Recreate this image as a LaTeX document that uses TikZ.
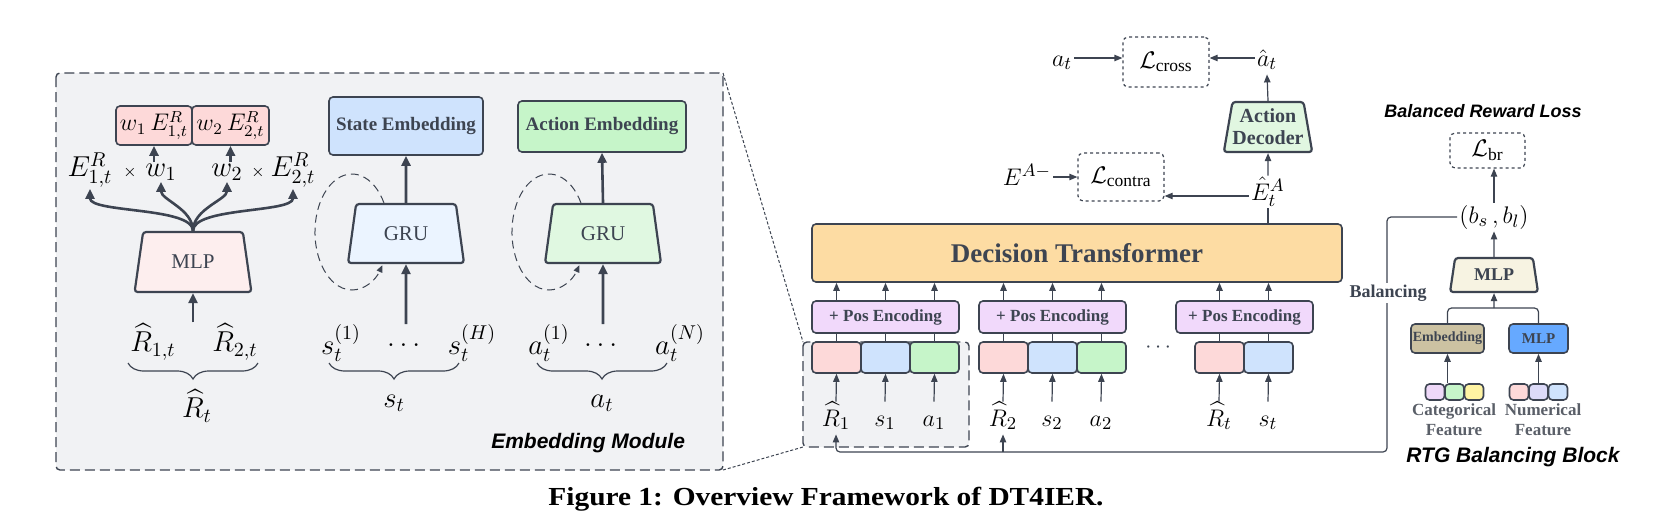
\documentclass[tikz,border=0pt]{standalone}
\usepackage{amsmath,amssymb}
\usepackage{fontspec}
\setmainfont{Liberation Serif}
\newfontfamily\lsans{Liberation Sans}
\newfontfamily\capfont[FakeStretch=1.13]{Liberation Serif}
\usepackage{xcolor}
\usetikzlibrary{arrows.meta,shapes.geometric,decorations.pathreplacing}
\definecolor{edge}{HTML}{3D4451}
\definecolor{bgray}{HTML}{F1F2F4}
\definecolor{redl}{HTML}{FDD9D9}
\definecolor{bluel}{HTML}{CFE3FD}
\definecolor{greenl}{HTML}{C6F5C9}
\definecolor{mlpred}{HTML}{FDEEEE}
\definecolor{grublue}{HTML}{EBF4FF}
\definecolor{grugreen}{HTML}{E0F8E1}
\definecolor{posc}{HTML}{F1D9FB}
\definecolor{dtc}{HTML}{FDDCA3}
\definecolor{decc}{HTML}{E1F7E1}
\definecolor{cream}{HTML}{F7F3E2}
\definecolor{tan}{HTML}{CCC2A2}
\definecolor{mlpblue}{HTML}{66A9FF}
\definecolor{purl}{HTML}{EED8F8}
\definecolor{yell}{HTML}{FFF4A3}
\definecolor{lav}{HTML}{DCDAF8}
\definecolor{feat}{HTML}{5A5F68}

\begin{document}
\begin{tikzpicture}[x=0.5pt,y=-0.5pt,
  bx/.style={draw=edge,line width=0.8pt,rounded corners=2pt,inner sep=0pt,align=center,text=edge},
  trap/.style={draw=edge,line width=1.1pt,trapezium,trapezium stretches=true,rounded corners=1.5pt,inner sep=0pt,align=center,text=edge},
  lossbox/.style={draw=edge,line width=0.6pt,dash pattern=on 1.5pt off 1.5pt,rounded corners=2.5pt,inner sep=0pt},
  frame/.style={draw=edge,fill=bgray,line width=0.7pt,dash pattern=on 5pt off 2.5pt,rounded corners=2pt},
  zoomln/.style={draw=edge,line width=0.5pt,dash pattern=on 1.5pt off 1pt},
  tok/.style={bx,minimum width=24.5pt,minimum height=15.5pt},
  thk/.style={draw=edge,line width=1.3pt,-{Triangle[length=5pt,width=4.5pt]}},
  thn/.style={draw=edge,line width=0.6pt,-{Triangle[length=4pt,width=3.2pt]}},
  ln/.style={draw=edge,line width=0.6pt},
  loopln/.style={draw=edge,line width=0.5pt,dash pattern=on 4pt off 2.5pt,-{Triangle[length=3.5pt,width=3pt]}},
  lbl/.style={inner sep=0.5pt,font=\fontsize{14.5}{16}\selectfont},
  clbl/.style={inner sep=1pt,text height=11pt,text depth=3pt,font=\fontsize{13}{15}\selectfont},
  brc/.style={draw=edge,line width=0.6pt,decorate,decoration={brace,mirror,amplitude=8pt}},
  ttl/.style={font=\lsans\bfseries\itshape\fontsize{10.5}{12}\selectfont}]
\useasboundingbox (0,0) rectangle (1675,520);
\coordinate (mtl) at (56,73); \coordinate (mbr) at (723,470);
\coordinate (selnw) at (803,342); \coordinate (selse) at (969,447);
\draw[frame] (mtl) rectangle (mbr);
\draw[frame] (selnw) rectangle (selse);
\draw[zoomln] (mbr |- mtl) -- (selnw);
\draw[zoomln] (mbr) -- (selnw |- selse);

\node[bx,fill=redl,text=black,minimum width=38pt,minimum height=19.5pt,font=\fontsize{12}{13}\selectfont] (w1e) at (154,125.5) {$w_1\,E^{R}_{1,t}$};
\node[bx,fill=redl,text=black,minimum width=38.5pt,minimum height=19.5pt,font=\fontsize{12}{13}\selectfont] (w2e) at (230.5,125.5) {$w_2\,E^{R}_{2,t}$};
\node[lbl] (e1r) at (90,170) {$E^{R}_{1,t}$};
\node[font=\fontsize{8}{9}\selectfont] (x1) at (130,172) {$\times$};
\node[lbl] (w1) at (161,172) {$w_1$};
\node[lbl] (w2) at (227,172) {$w_2$};
\node[font=\fontsize{8}{9}\selectfont] (x2) at (258,172) {$\times$};
\node[lbl] (e2r) at (293,170) {$E^{R}_{2,t}$};
\node[trap,fill=mlpred,trapezium angle=75,minimum width=58.5pt,minimum height=30pt,font=\fontsize{10.5}{12}\selectfont] (mlpl) at (193,262) {MLP};
\draw[thk] (w1.north -| w1e.south) -- (w1e.south);
\draw[thk] (w2.north -| w2e.south) -- (w2e.south);
\draw[thk] (mlpl.north) .. controls +(0,-24) and +(0,24) .. (e1r.south);
\draw[thk] (mlpl.north) .. controls +(0,-22) and +(0,18) .. (w1.south);
\draw[thk] (mlpl.north) .. controls +(0,-22) and +(0,18) .. (w2.south);
\draw[thk] (mlpl.north) .. controls +(0,-24) and +(0,24) .. (e2r.south);
\node[lbl] (r1t) at (153,342) {$\widehat{R}_{1,t}$};
\node[lbl] (r2t) at (235,342) {$\widehat{R}_{2,t}$};
\draw[thk] (r1t.north -| mlpl.south) -- (mlpl.south);
\draw[brc] (128,363) -- (258,363);
\node[lbl] (rt) at (197,406) {$\widehat{R}_t$};

\node[bx,fill=bluel,minimum width=77pt,minimum height=29pt,font=\bfseries\fontsize{9.5}{11}\selectfont] (semb) at (406,126) {State Embedding};
\node[trap,fill=grublue,trapezium angle=75.7,minimum width=58pt,minimum height=29.5pt,font=\fontsize{10.5}{12}\selectfont] (gru1) at (406,233.5) {GRU};
\draw[loopln] (384,203) arc[start angle=-30,end angle=-325,x radius=37,y radius=58];
\draw[thk] (gru1.north) -- (semb.south);
\node[lbl] (s1l) at (341,343) {$s_t^{(1)}$};
\node[lbl] (sdots) at (406,345) {$\dots$};
\node[lbl] (sHl) at (472,343) {$s_t^{(H)}$};
\draw[thk] ([yshift=9pt]sdots.north) -- (gru1.south);
\draw[brc] (329,363) -- (459,363);
\node[lbl] (st) at (394,403) {$s_t$};

\node[bx,fill=greenl,minimum width=84pt,minimum height=25.5pt,font=\bfseries\fontsize{9.5}{11}\selectfont] (aemb) at (602,126.5) {Action Embedding};
\node[trap,fill=grugreen,trapezium angle=75.7,minimum width=58pt,minimum height=29.5pt,font=\fontsize{10.5}{12}\selectfont] (gru2) at (603,233.5) {GRU};
\draw[loopln] (581,203) arc[start angle=-30,end angle=-325,x radius=37,y radius=58];
\draw[thk] (gru2.north) -- (aemb.south);
\node[lbl] (a1l) at (549,343) {$a_t^{(1)}$};
\node[lbl] (adots) at (603,345) {$\dots$};
\node[lbl] (aNl) at (680,343) {$a_t^{(N)}$};
\draw[thk] ([yshift=9pt]adots.north) -- (gru2.south);
\draw[brc] (537,363) -- (667,363);
\node[lbl] (at) at (602,403) {$a_t$};
\node[ttl,anchor=east] (embmod) at (692,443) {Embedding Module};

\node[bx,fill=dtc,minimum width=265pt,minimum height=29pt,font=\bfseries\fontsize{13.5}{15}\selectfont] (dt) at (1077,253) {Decision Transformer};
\node[bx,fill=posc,minimum width=73.5pt,minimum height=16pt,font=\bfseries\fontsize{8.5}{10}\selectfont] (pe1) at (885.5,317) {+ Pos Encoding};
\node[bx,fill=posc,minimum width=73.5pt,minimum height=16pt,font=\bfseries\fontsize{8.5}{10}\selectfont] (pe2) at (1052.5,317) {+ Pos Encoding};
\node[bx,fill=posc,minimum width=68.5pt,minimum height=16pt,font=\bfseries\fontsize{8.5}{10}\selectfont] (pe3) at (1244.5,317) {+ Pos Encoding};
\node[tok,fill=redl] (t11) at (836.5,357.5) {};
\node[tok,fill=bluel] (t12) at (885.5,357.5) {};
\node[tok,fill=greenl] (t13) at (934.5,357.5) {};
\node[tok,fill=redl] (t21) at (1003.5,357.5) {};
\node[tok,fill=bluel] (t22) at (1052.5,357.5) {};
\node[tok,fill=greenl] (t23) at (1101.5,357.5) {};
\node[tok,fill=redl] (t31) at (1219.5,357.5) {};
\node[tok,fill=bluel] (t32) at (1268.5,357.5) {};
\node[text=edge,font=\fontsize{11}{12}\selectfont] (tdots) at (1160,348) {$\cdots$};
\draw[ln] (t11.north) -- (t11 |- pe1.south); \draw[thn] (t11 |- pe1.north) -- (t11 |- dt.south);
\draw[ln] (t12.north) -- (t12 |- pe1.south); \draw[thn] (t12 |- pe1.north) -- (t12 |- dt.south);
\draw[ln] (t13.north) -- (t13 |- pe1.south); \draw[thn] (t13 |- pe1.north) -- (t13 |- dt.south);
\draw[ln] (t21.north) -- (t21 |- pe2.south); \draw[thn] (t21 |- pe2.north) -- (t21 |- dt.south);
\draw[ln] (t22.north) -- (t22 |- pe2.south); \draw[thn] (t22 |- pe2.north) -- (t22 |- dt.south);
\draw[ln] (t23.north) -- (t23 |- pe2.south); \draw[thn] (t23 |- pe2.north) -- (t23 |- dt.south);
\draw[ln] (t31.north) -- (t31 |- pe3.south); \draw[thn] (t31 |- pe3.north) -- (t31 |- dt.south);
\draw[ln] (t32.north) -- (t32 |- pe3.south); \draw[thn] (t32 |- pe3.north) -- (t32 |- dt.south);
\node[clbl] (r1l) at (836,418) {$\widehat{R}_1$};
\node[clbl] (s1) at (885,418) {$s_1$};
\node[clbl] (a1) at (934,418) {$a_1$};
\node[clbl] (r2l) at (1003,418) {$\widehat{R}_2$};
\node[clbl] (s2) at (1052,418) {$s_2$};
\node[clbl] (a2) at (1101,418) {$a_2$};
\node[clbl] (rtl) at (1219,418) {$\widehat{R}_t$};
\node[clbl] (stok) at (1268,418) {$s_t$};
\draw[thn] (r1l.north) -- (t11.south);
\draw[thn] (s1.north) -- (t12.south);
\draw[thn] (a1.north) -- (t13.south);
\draw[thn] (r2l.north) -- (t21.south);
\draw[thn] (s2.north) -- (t22.south);
\draw[thn] (a2.north) -- (t23.south);
\draw[thn] (rtl.north) -- (t31.south);
\draw[thn] (stok.north) -- (t32.south);

\node[clbl] (ehat) at (1268,192) {$\hat{E}_t^{A}$};
\node[trap,fill=decc,trapezium angle=76.5,minimum width=42.5pt,minimum height=25pt,font=\bfseries\fontsize{10}{11}\selectfont] (dec) at (1268,127) {Action\\Decoder};
\node[clbl] (ahat) at (1267,58) {$\hat{a}_t$};
\node[lossbox,minimum width=43pt,minimum height=25pt,font=\fontsize{12.5}{14}\selectfont] (lcross) at (1166,62) {$\mathcal{L}_{\text{cross}}$};
\node[clbl] (atl) at (1062,58) {$a_t$};
\node[lossbox,minimum width=43pt,minimum height=24pt,font=\fontsize{12.5}{14}\selectfont] (lcon) at (1121,177) {$\mathcal{L}_{\text{contra}}$};
\node[clbl] (eam) at (1027,177) {$E^{A-}$};
\draw[ln] (ehat.south |- dt.north) -- (ehat.south);
\draw[thn] (ehat.north) -- (dec.south);
\draw[thn] ([yshift=-2pt]ehat.west) -- ([yshift=-2pt]ehat.west -| lcon.east);
\draw[thn] (eam.east) -- (eam.east -| lcon.west);
\draw[thn] (dec.north) -- (ahat.south);
\draw[thn] (ahat.west) -- (ahat.west -| lcross.east);
\draw[thn] (atl.east) -- (atl.east -| lcross.west);

\node[ttl,font=\lsans\bfseries\itshape\fontsize{9}{11}\selectfont] (brl) at (1483,111) {Balanced Reward Loss};
\node[lossbox,minimum width=37.5pt,minimum height=17.5pt,font=\fontsize{12.5}{14}\selectfont] (lbr) at (1487.5,150.5) {$\mathcal{L}_{\text{br}}$};
\node[inner sep=1pt,font=\fontsize{13}{14}\selectfont] (bsbl) at (1494,217) {$(b_s\,,b_l)$};
\node[trap,fill=cream,trapezium angle=77.5,minimum width=44pt,minimum height=17pt,font=\bfseries\fontsize{9}{10}\selectfont] (mlpr) at (1494,275) {MLP};
\node[bx,fill=tan,minimum width=36.5pt,minimum height=14.5pt,font=\bfseries\fontsize{7}{8}\selectfont] (embc) at (1447.5,338.5) {Embedding};
\node[bx,fill=mlpblue,minimum width=29.5pt,minimum height=14.5pt,font=\bfseries\fontsize{7.5}{8}\selectfont] (mlpn) at (1538.5,338.5) {MLP};
\coordinate (jn) at (1494,308);
\draw[thn] (bsbl.north) -- (bsbl.north |- lbr.south);
\draw[thn] (mlpr.north) -- (bsbl.south);
\draw[ln,rounded corners=2pt] (embc.north) |- (jn) -| (mlpn.north);
\draw[thn] (jn) -- (mlpr.south);
\node[bx,fill=purl,minimum width=9.5pt,minimum height=8pt] (c1) at (1435,392) {};
\node[bx,fill=greenl,minimum width=9.5pt,minimum height=8pt] (c2) at (1454.5,392) {};
\node[bx,fill=yell,minimum width=9.5pt,minimum height=8pt] (c3) at (1474,392) {};
\node[bx,fill=redl,minimum width=9.5pt,minimum height=8pt] (n1) at (1519,392) {};
\node[bx,fill=lav,minimum width=9.5pt,minimum height=8pt] (n2) at (1538.5,392) {};
\node[bx,fill=bluel,minimum width=9.5pt,minimum height=8pt] (n3) at (1558,392) {};
\draw[thn] (c2.north -| embc.south) -- (embc.south);
\draw[thn] (n2.north) -- (mlpn.south);
\node[text=feat,align=center,inner sep=0pt,font=\bfseries\fontsize{8.5}{10}\selectfont] (catf) at (1454,420) {Categorical\\Feature};
\node[text=feat,align=center,inner sep=0pt,font=\bfseries\fontsize{8.5}{10}\selectfont] (numf) at (1543,420) {Numerical\\Feature};
\node[ttl] (rtgb) at (1513,457) {RTG Balancing Block};

\coordinate (bl) at (1387,452);
\draw[thn,rounded corners=2pt] (bsbl.west) -| (bl) -| (r1l.south);
\draw[thn] (r2l.south |- bl) -- (r2l.south);
\node[fill=white,text=edge,inner sep=1pt,font=\bfseries\fontsize{9}{10}\selectfont] (bal) at (1388,293) {Balancing};

\node[font=\capfont\bfseries\fontsize{13}{14}\selectfont] (cap) at (826,499) {Figure 1: Overview Framework of DT4IER.};
\end{tikzpicture}
\end{document}
